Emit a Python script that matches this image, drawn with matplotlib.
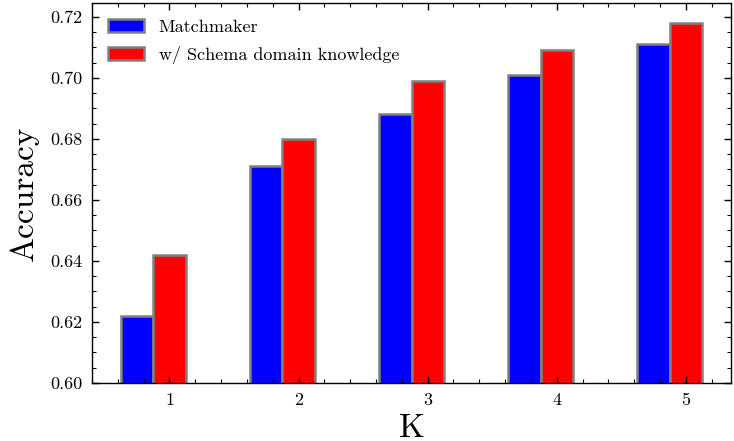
import matplotlib
matplotlib.use("Agg")
import matplotlib.pyplot as plt
import numpy as np
from matplotlib.ticker import MultipleLocator

K = [1, 2, 3, 4, 5]
matchmaker = [0.622, 0.671, 0.688, 0.701, 0.711]
schema = [0.642, 0.680, 0.699, 0.709, 0.718]
series_labels = ["Matchmaker", "w/ Schema domain knowledge"]

plt.rcParams['font.family'] = 'cmr10'
plt.rcParams['mathtext.fontset'] = 'cm'
plt.rcParams['axes.formatter.use_mathtext'] = True

fig = plt.figure(figsize=(7.34, 4.41), dpi=100)
ax = fig.add_axes([92/734, (441-383)/441, (731-92)/734, (383-3)/441])

x = np.array(K, dtype=float)
w = 0.25
ax.bar(x - w, matchmaker, w, color='#0000ff', edgecolor='gray', linewidth=1.8, label=series_labels[0])
ax.bar(x, schema, w, color='#ff0000', edgecolor='gray', linewidth=1.8, label=series_labels[1])

ax.set_ylim(0.6, 0.7245)
ax.set_xticks(K)
ax.set_xticklabels([str(k) for k in K])
ax.yaxis.set_major_locator(MultipleLocator(0.02))
ax.yaxis.set_minor_locator(MultipleLocator(0.005))
ax.xaxis.set_minor_locator(MultipleLocator(0.2))
ax.yaxis.set_major_formatter(matplotlib.ticker.FormatStrFormatter('%.2f'))

ax.tick_params(which='both', direction='in', top=True, right=True, labelsize=13)
ax.tick_params(which='major', length=5, width=1, pad=7)
ax.tick_params(which='minor', length=2.8, width=0.8)
for s in ax.spines.values():
    s.set_linewidth(1.0)

ax.set_xlabel('K', fontsize=24, labelpad=4)
ax.set_ylabel('Accuracy', fontsize=24, labelpad=8)

ax.legend(loc='upper left', frameon=False, fontsize=13, labelspacing=0.6)

fig.savefig('out.png', dpi=100)
